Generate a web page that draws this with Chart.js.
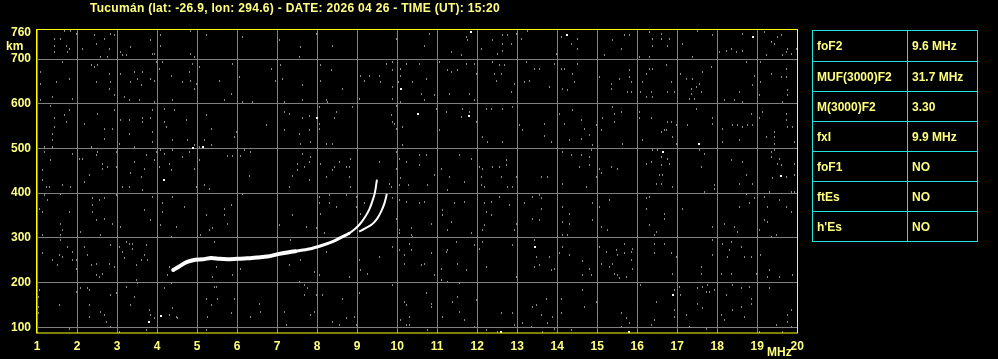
<!DOCTYPE html>
<html>
<head>
<meta charset="utf-8">
<script src="https://cdn.jsdelivr.net/npm/chart.js@4.4.1/dist/chart.umd.min.js"></script>
<style>
  html, body { margin: 0; padding: 0; background: #000; }
  body { width: 998px; height: 359px; position: relative; overflow: hidden;
         font: bold 12px "Liberation Sans", Arial, sans-serif; color: #ffff80; }
  #wrap { position: absolute; left: 0; top: 0; width: 998px; height: 359px; }
  .lbl { position: absolute; white-space: nowrap; line-height: 1; }
  #title { left: 90px; top: 2px; letter-spacing: 0.3px; }
  #km { left: 6px; top: 40px; }
  #mhz { left: 767px; top: 346px; }
  #params { position: absolute; left: 812px; top: 30px; border-collapse: collapse; }
  #params td { border: 1px solid #20e0e0; height: 29px; padding: 0 0 0 4px; color: #ffff80;
               font: bold 12px "Liberation Sans", Arial, sans-serif; vertical-align: middle; }
  #params td.n { width: 90px; }
  #params td.v { width: 65px; }
</style>
</head>
<body>
<div id="wrap"><canvas id="iono" width="998" height="359"></canvas></div>
<div class="lbl" id="title">Tucumán (lat: -26.9, lon: 294.6) - DATE: 2026 04 26 - TIME (UT): 15:20</div>
<div class="lbl" id="km">km</div>
<div class="lbl" id="mhz">MHz</div>
<table id="params"><tbody></tbody></table>
<script>
const xTicks = [1, 2, 3, 4, 5, 6, 7, 8, 9, 10, 11, 12, 13, 14, 15, 16, 17, 18, 19, 20];
const yTicks = [100, 200, 300, 400, 500, 600, 700, 760];

// ordinary trace
const oFreq = [4.40, 4.55, 4.75, 4.95, 5.15, 5.35, 5.55, 5.75, 6.0, 6.25, 6.5, 6.75, 7.05, 7.45, 7.8, 8.15, 8.4, 8.6, 8.8, 8.95, 9.08, 9.2, 9.3, 9.38, 9.44, 9.49];
const oHeight = [228, 236, 246, 251, 252, 255, 253, 252, 253, 254, 256, 258, 264, 270, 275, 284, 292, 301, 310, 320, 332, 347, 363, 382, 400, 428];
// extraordinary trace
const xFreq = [9.05, 9.2, 9.38, 9.5, 9.6, 9.68, 9.74];
const xHeight = [314, 321, 331, 343, 359, 377, 398];

const paramNames = ["foF2", "MUF(3000)F2", "M(3000)F2", "fxI", "foF1", "ftEs", "h'Es"];
const paramValues = ["9.6 MHz", "31.7 MHz", "3.30", "9.9 MHz", "NO", "NO", "NO"];

// background noise echoes [MHz, km]
const noiseDots = [
  [1.43,745],[1.43,730],[1.43,716],[1.59,745],[1.68,762],[1.72,730],[1.76,716],[1.80,723],[1.84,762],[1.97,757],
  [2.14,723],[2.43,753],[2.47,734],[2.68,745],[2.80,723],[2.84,757],[2.93,753],[2.59,704],[2.76,704],[3.09,716],
  [3.14,708],[3.22,708],[3.34,727],[3.84,742],[3.89,712],[3.93,712],[4.01,708],[4.09,753],[4.09,730],[4.84,762],
  [4.84,712],[4.93,704],[5.22,753],
  [1.64,693],[1.09,671],[1.09,645],[1.47,649],[1.80,656],[1.89,611],[1.09,608],[1.39,615],[2.01,619],[2.35,686],
  [2.43,682],[2.51,686],[2.47,649],[2.80,667],[2.80,634],[2.84,649],[2.93,619],[3.09,667],[3.18,615],[3.30,608],
  [3.34,649],[3.43,671],[3.51,656],[3.64,671],[3.60,641],[3.55,608],[3.84,656],[3.93,652],[3.93,604],[3.97,693],
  [4.05,678],[4.14,693],[4.35,663],[4.39,608],[4.64,649],[4.80,671],[4.84,652],[4.89,690],[4.93,634],[4.97,645],
  [5.05,682],[5.55,652],[5.68,608],
  [1.34,594],[1.43,567],[1.43,548],[1.68,574],[1.72,559],[1.80,585],[1.39,533],[1.39,518],[1.39,503],[1.18,503],
  [2.01,596],[2.18,555],[2.35,503],[2.51,578],[2.68,544],[2.68,522],[2.89,544],[2.93,585],[3.05,511],[3.09,563],
  [3.30,563],[3.30,533],[3.43,503],[3.64,567],[3.64,559],[3.84,567],[3.89,585],[3.89,537],[3.89,514],[4.18,589],
  [4.18,559],[4.22,548],[4.39,518],[4.43,585],[4.72,563],[4.76,518],[4.93,507],[5.05,503],[5.18,518],[5.22,574],
  [5.35,544],[5.35,507],
  [1.18,492],[1.34,473],[1.14,451],[1.14,429],[1.22,414],[1.30,414],[1.64,418],[1.84,414],[1.89,488],[2.05,477],
  [2.14,477],[2.18,425],[2.30,440],[2.47,485],[2.51,492],[2.64,455],[2.76,459],[2.64,466],[2.97,492],[2.97,459],
  [3.14,414],[3.30,414],[3.34,444],[3.43,470],[3.60,436],[3.68,455],[3.72,485],[3.64,406],[3.93,473],[3.97,492],
  [4.05,459],[4.09,496],[4.18,488],[4.30,466],[4.35,451],[4.39,496],[4.64,481],[4.80,492],[4.93,455],[4.97,414],
  [5.05,473],[5.18,418],[5.30,410],
  [1.05,365],[1.14,358],[1.18,395],[1.26,384],[1.59,399],[1.80,358],[2.39,388],[2.39,373],[2.55,384],[2.68,388],
  [2.39,358],[2.97,395],[3.01,347],[3.09,324],[2.89,332],[2.68,343],[2.47,339],[1.59,332],[1.64,317],[1.59,306],
  [1.14,306],[2.09,313],[2.59,306],[3.68,362],[3.84,339],[3.89,391],[4.14,377],[4.14,358],[4.01,328],[4.09,328],
  [4.39,391],[4.47,324],[4.35,302],[4.68,369],[5.09,306],[5.22,351],[5.30,317],[5.39,321],[5.68,351],[5.68,365],
  [1.14,265],[1.39,250],[1.51,239],[1.55,261],[1.59,295],[1.64,257],[1.76,280],[1.89,269],[1.89,250],[1.97,250],
  [1.97,231],[2.01,254],[2.18,280],[2.26,261],[2.47,242],[2.55,213],[2.47,216],[2.35,239],[2.64,220],[2.84,283],
  [2.80,242],[2.93,235],[3.05,280],[3.14,269],[3.18,254],[3.22,291],[3.30,287],[3.39,287],[3.39,276],[3.47,239],
  [3.47,205],[3.60,250],[3.68,261],[3.72,283],[3.76,250],[4.26,216],[4.30,235],[5.43,291],[5.47,235],[5.39,213],
  [1.01,190],[1.05,183],[1.04,168],[1.04,146],[1.04,131],[1.55,149],[1.97,179],[2.09,187],[2.26,187],[2.30,183],
  [2.30,123],[2.30,149],[2.59,134],[2.68,127],[2.84,172],[2.97,176],[2.72,112],[2.84,101],[3.22,190],[3.43,168],
  [3.34,149],[3.51,198],[3.80,138],[3.84,127],[3.93,120],[4.18,187],[4.35,198],[4.39,142],[4.30,127],[4.47,123],
  [4.51,120],[5.22,164],[5.51,164],[5.26,123],[5.35,149],[5.43,190],[5.47,190],[5.22,94],[3.72,94],[3.05,90],[1.80,97],
  [6.14,749],[7.05,742],[7.59,727],[7.55,704],[7.97,757],[8.01,716],[8.39,730],[9.97,745],[10.01,704],
  [5.89,690],[6.05,660],[5.85,622],[6.14,604],[6.39,604],[6.85,678],[7.09,686],[7.14,656],[6.95,652],[7.18,604],
  [7.64,641],[7.64,608],[8.09,686],[8.09,652],[8.35,675],[8.22,608],[8.26,604],[8.64,634],[9.05,611],[9.09,663],
  [9.30,663],[9.18,652],[9.55,663],[9.59,649],[9.72,690],[9.89,693],[9.89,675],[9.89,637],[9.89,611],[10.09,678],
  [10.09,663],[10.22,690],[10.39,649],[10.04,649],[10.09,604],
  [5.97,537],[5.93,526],[6.72,552],[7.18,581],[7.30,578],[7.18,541],[7.64,567],[7.80,572],[7.80,541],[7.55,533],
  [7.84,514],[7.59,511],[8.05,593],[8.05,555],[8.05,544],[8.22,511],[8.39,511],[8.47,581],[8.43,567],[8.89,593],
  [9.85,574],[9.93,555],[9.97,544],[10.14,548],[10.14,507],[9.89,559],[9.97,596],
  [5.76,482],[5.89,482],[6.09,482],[6.34,492],[6.18,496],[6.30,438],[7.30,414],[7.39,438],[7.51,451],[7.51,466],
  [7.64,488],[7.68,459],[7.80,470],[7.84,481],[7.80,429],[8.09,466],[8.22,436],[8.39,451],[8.43,459],[8.55,470],
  [8.72,459],[8.80,459],[8.84,477],[8.80,436],[8.84,414],[9.55,470],[9.97,492],[10.05,477],[10.22,470],[10.09,433],
  [9.97,455],[9.80,421],[9.85,414],[10.05,418],[10.29,418],
  [5.85,373],[5.76,332],[6.14,399],[7.39,351],[7.05,328],[7.72,324],[7.97,321],[8.05,391],[8.05,377],[8.09,354],
  [8.30,395],[8.30,377],[8.47,369],[8.18,310],[8.72,395],[8.97,391],[8.97,369],[9.01,336],[9.09,354],[9.18,377],
  [9.89,388],[9.97,343],[10.05,317],[10.05,384],[10.22,380],[10.35,321],[10.05,310],[10.35,306],
  [5.89,216],[6.09,231],[7.30,239],[7.59,250],[7.34,295],[7.93,224],[8.05,216],[8.22,269],[8.80,213],[9.05,250],
  [9.09,228],[9.26,220],[9.55,257],[9.89,280],[10.05,272],[10.18,261],[10.30,287],[10.35,272],[10.18,242],[10.39,302],
  [5.93,164],[5.85,131],[6.34,123],[6.55,153],[6.59,134],[7.01,116],[7.18,134],[7.22,105],[7.55,202],[7.68,194],
  [7.76,187],[7.68,172],[7.84,127],[7.93,134],[7.97,172],[8.14,172],[8.39,112],[8.55,105],[8.64,164],[8.72,120],
  [8.93,123],[9.05,176],[8.97,105],[9.89,194],[10.18,157],[10.22,149],[10.09,116],[10.30,123],[10.30,105],[10.22,105],
  [10.80,757],[10.68,730],[11.35,716],[11.60,708],[11.72,749],[11.76,742],[12.10,723],[12.39,742],[12.51,712],[12.64,753],
  [12.64,734],[12.64,719],[12.76,753],[12.85,734],[12.97,757],[13.10,745],[13.26,762],[13.97,712],[14.10,749],[14.35,734],
  [14.51,745],[14.51,723],[15.01,719],[15.18,708],
  [10.55,690],[10.72,656],[10.60,622],[10.68,608],[10.93,619],[11.05,693],[11.26,675],[11.35,671],[11.30,622],[11.51,675],
  [11.72,690],[11.80,622],[11.93,690],[11.97,667],[11.93,608],[12.39,693],[12.43,667],[12.47,652],[12.60,667],[12.55,686],
  [12.68,686],[12.85,626],[12.93,645],[13.22,693],[13.18,649],[13.30,652],[13.43,678],[13.55,678],[13.80,637],[13.93,690],
  [14.10,678],[14.18,678],[14.14,634],[14.26,630],[14.39,667],[14.43,649],[14.51,690],[15.01,675],[15.05,660],
  [10.97,589],[11.05,541],[11.22,581],[11.60,570],[11.64,589],[11.80,581],[11.97,559],[12.22,589],[12.35,589],[12.14,526],
  [12.26,514],[12.64,589],[12.64,514],[12.89,593],[13.05,552],[13.14,541],[13.68,555],[13.68,527],[13.85,514],[14.05,578],
  [14.18,555],[14.39,585],[14.30,518],[14.60,563],[14.60,522],[14.68,544],[14.80,530],[14.97,552],[15.14,567],[15.10,541],
  [14.89,507],
  [10.55,485],[10.72,485],[10.55,462],[10.93,440],[10.76,418],[11.10,455],[11.30,436],[11.26,406],[11.55,485],[11.68,425],
  [11.85,477],[12.05,459],[12.10,436],[12.14,455],[12.10,418],[12.18,414],[12.39,459],[12.55,459],[12.72,473],[12.72,462],
  [12.60,436],[12.76,414],[12.89,414],[12.97,436],[13.60,436],[13.76,436],[14.14,492],[14.35,485],[14.14,421],[14.55,459],
  [14.60,485],[14.80,481],[14.85,496],[14.80,462],[14.72,414],[15.01,485],[15.05,455],[15.10,444],[14.97,436],
  [10.55,377],[10.68,380],[10.85,332],[11.14,362],[11.14,351],[11.35,336],[11.43,377],[11.26,317],[11.68,380],[11.85,310],
  [12.18,377],[12.22,358],[12.35,351],[12.18,328],[12.14,317],[12.35,380],[12.55,391],[12.80,373],[12.93,317],[12.97,332],
  [13.18,377],[13.39,391],[13.55,395],[13.60,365],[13.60,388],[13.39,343],[13.55,339],[14.14,369],[14.14,336],[14.30,354],
  [14.30,332],[14.26,306],[14.14,306],[14.89,339],[14.89,377],[15.05,369],[15.10,324],
  [10.60,239],[10.68,242],[10.85,265],[10.93,216],[11.10,231],[11.22,269],[11.26,272],[11.47,291],[11.51,242],[11.72,228],
  [11.93,283],[12.05,276],[12.14,291],[12.22,235],[12.89,283],[12.97,213],[13.43,295],[13.43,235],[13.47,257],[13.55,239],
  [13.80,257],[13.85,228],[13.93,231],[14.05,265],[14.14,280],[14.30,261],[14.64,247],[14.64,216],[14.80,231],[14.85,216],
  [15.05,280],[15.10,242],[15.01,213],
  [10.72,176],[10.85,146],[10.85,153],[11.10,205],[11.14,123],[11.26,202],[11.39,157],[11.51,168],[11.55,134],[11.68,116],
  [11.55,198],[11.97,161],[11.93,101],[12.22,94],[12.60,131],[12.51,90],[12.89,131],[12.93,105],[13.14,109],[13.35,101],
  [13.39,146],[13.47,149],[13.60,127],[13.72,164],[13.89,123],[13.76,109],[13.93,97],[14.10,164],[14.10,131],[14.64,183],
  [14.68,146],[14.97,157],[15.01,131],[14.35,94],[13.64,90],[10.76,94],
  [15.39,742],[15.60,723],[15.68,753],[15.80,753],[16.05,704],[16.30,704],[16.30,760],[16.39,745],[16.39,730],[16.60,757],
  [16.60,745],[16.76,730],[16.80,745],[17.14,734],[17.39,704],[17.51,762],[17.89,753],[18.05,716],[18.22,719],[18.35,723],
  [18.47,716],[18.64,757],[18.64,719],[19.18,760],[19.22,708],[19.35,738],[19.43,734],[19.51,749],[19.60,753],[19.64,708],
  [19.72,716],[19.76,723],[19.85,712],[19.97,723],
  [15.35,645],[15.35,634],[15.55,656],[15.80,675],[15.80,660],[15.85,649],[15.76,626],[15.85,626],[16.09,626],[16.14,649],
  [16.22,667],[16.30,678],[16.39,678],[16.22,615],[16.35,626],[16.39,615],[16.72,686],[16.85,649],[16.76,626],[16.93,626],
  [17.09,667],[17.22,656],[17.39,656],[17.35,634],[17.35,622],[17.30,611],[17.43,611],[17.47,637],[17.55,645],[17.60,626],
  [17.64,671],[17.85,682],[18.01,611],[18.18,608],[18.43,608],[18.55,626],[18.64,604],[18.72,693],[18.93,663],[18.89,641],
  [19.09,693],[19.09,649],[19.05,619],[19.35,667],[19.60,660],[19.72,660],[19.72,678],[19.76,630],[19.76,619],[19.64,604],
  [15.39,593],[15.43,578],[15.60,581],[15.43,559],[15.64,511],[16.05,581],[16.05,567],[16.35,567],[16.60,537],[16.68,541],
  [16.76,559],[16.85,559],[16.72,541],[16.89,526],[16.97,552],[16.97,511],[16.14,518],[17.26,552],[17.47,589],[17.89,567],
  [17.89,555],[18.14,544],[18.39,552],[18.51,552],[18.64,548],[18.76,552],[18.85,578],[18.89,552],[18.55,518],[18.14,514],
  [19.05,567],[19.14,581],[19.22,526],[19.43,537],[19.43,526],[19.72,578],[19.72,563],[19.76,548],[19.89,548],[19.93,514],
  [19.43,511],
  [15.35,459],[15.51,455],[16.39,496],[16.51,496],[16.60,481],[16.76,477],[16.22,466],[16.35,470],[16.60,462],[16.80,466],
  [16.55,440],[16.64,440],[16.47,421],[16.60,421],[16.89,414],[17.68,488],[17.60,459],[17.55,496],[17.93,418],[17.93,410],
  [18.35,473],[18.64,470],[18.72,440],[18.55,421],[18.89,421],[19.35,492],[19.35,481],[19.43,496],[19.55,477],[19.51,466],
  [19.60,462],[19.39,433],[19.72,436],[19.93,466],[19.93,440],[19.85,403],[19.93,403],[19.30,403],[17.68,403],
  [15.30,384],[15.26,317],[16.22,388],[16.30,391],[16.22,365],[16.68,354],[16.68,343],[16.30,328],[16.47,313],[16.43,306],
  [17.14,365],[17.89,324],[18.18,332],[18.43,324],[18.51,313],[18.55,369],[18.72,399],[18.80,377],[18.93,388],[19.05,317],
  [19.18,391],[19.26,369],[19.18,339],[19.26,336],[19.55,384],[19.72,369],[19.85,358],[19.47,306],[19.35,302],
  [15.22,269],[15.39,242],[15.47,272],[15.51,261],[15.68,287],[15.68,265],[15.85,269],[15.89,276],[15.85,250],[15.89,231],
  [15.30,235],[15.43,220],[15.51,216],[15.55,209],[15.72,213],[16.43,287],[16.68,287],[16.43,265],[16.85,265],[16.97,257],
  [16.89,220],[17.60,235],[17.60,220],[17.89,261],[17.89,295],[18.14,287],[18.30,272],[18.35,291],[18.26,257],[18.60,280],
  [18.68,257],[18.85,257],[18.10,220],[18.35,220],[19.01,269],[19.09,261],[19.30,228],[19.26,213],[19.55,213],[19.89,216],
  [18.97,220],
  [16.09,194],[16.01,149],[16.01,134],[15.60,131],[15.72,120],[15.80,109],[15.60,101],[16.47,157],[16.43,116],[16.35,105],
  [16.93,183],[16.93,138],[16.93,123],[17.05,190],[17.09,172],[17.22,127],[17.30,101],[17.51,187],[17.51,153],[17.64,190],
  [17.64,142],[17.72,179],[17.80,179],[17.76,194],[17.93,183],[17.72,97],[18.10,127],[18.22,172],[18.18,116],[18.39,194],
  [18.39,138],[18.60,187],[18.60,146],[18.68,123],[18.80,190],[18.85,164],[18.85,153],[19.30,187],[19.47,105],[19.76,127],
  [19.85,138],[19.76,112],[19.85,101],[19.05,90],[19.64,90]
];
const brightDots = [
  [4.89,502],[5.14,503],[4.18,429],[3.80,112],[4.09,125],[10.09,634],[7.99,568],[11.85,760],[14.25,753],[10.51,578],
  [11.79,572],[13.45,280],[12.60,90],[18.89,749],[17.54,509],[16.64,492],[19.60,438],[16.89,172],[15.80,90]
];

function dotImage(w, h, color) {
  const c = document.createElement("canvas");
  c.width = w;
  c.height = h;
  const g = c.getContext("2d");
  g.fillStyle = color;
  g.fillRect(0, 0, w, h);
  return c;
}

function toPoints(pairs) {
  return pairs.map(([x, y]) => ({ x, y }));
}

function renderTable() {
  const body = document.querySelector("#params tbody");
  body.innerHTML = paramNames
    .map((name, i) => `<tr><td class="n">${name}</td><td class="v">${paramValues[i]}</td></tr>`)
    .join("");
  body.rows[0].cells[0].style.height = "30px";
}

// snap the point images to whole pixels so the echoes stay crisp
const crispDots = {
  id: "crispDots",
  beforeDatasetsDraw(chart) {
    const ctx = chart.ctx;
    const orig = CanvasRenderingContext2D.prototype.drawImage;
    ctx.drawImage = function (img, dx, dy, dw, dh) {
      const m = this.getTransform();
      this.save();
      this.setTransform(1, 0, 0, 1, 0, 0);
      orig.call(this, img, Math.round(m.e + dx), Math.round(m.f + dy), dw, dh);
      this.restore();
    };
  },
  afterDatasetsDraw(chart) {
    delete chart.ctx.drawImage;
    const { ctx, chartArea: a } = chart;
    ctx.save();
    ctx.strokeStyle = "#ffff00";
    ctx.lineWidth = 1;
    ctx.strokeRect(Math.round(a.left) + 0.5, Math.round(a.top) - 0.5, Math.round(a.right - a.left) - 1, Math.round(a.bottom - a.top) + 0.5);
    ctx.restore();
  }
};

const tickFont = { family: "'Liberation Sans', Arial, sans-serif", size: 12, weight: "bold" };

new Chart(document.getElementById("iono"), {
  type: "scatter",
  data: {
    datasets: [
      {
        data: toPoints(noiseDots),
        pointStyle: dotImage(1, 2, "#8a8a8a"),
        pointRadius: 1
      },
      {
        data: toPoints(brightDots),
        pointStyle: dotImage(2, 2, "#ffffff"),
        pointRadius: 1
      },
      {
        type: "line",
        data: oFreq.map((f, i) => ({ x: f, y: oHeight[i] })),
        borderColor: "#ffffff",
        borderWidth: 3,
        borderCapStyle: "round",
        pointRadius: 0,
        tension: 0.3,
        segment: {
          borderWidth: (c) => (c.p0.parsed.x < 7.2 ? 4 : c.p0.parsed.x < 8.7 ? 3 : 2)
        }
      },
      {
        type: "line",
        data: xFreq.map((f, i) => ({ x: f, y: xHeight[i] })),
        borderColor: "#ffffff",
        borderWidth: 2,
        pointRadius: 0,
        tension: 0.3
      }
    ]
  },
  options: {
    responsive: false,
    animation: false,
    events: [],
    layout: { padding: { top: 30, right: 200, left: 0, bottom: 0 } },
    plugins: { legend: { display: false }, tooltip: { enabled: false } },
    scales: {
      x: {
        type: "linear",
        min: 0.97,
        max: 20.02,
        afterBuildTicks: (s) => { s.ticks = xTicks.map((v) => ({ value: v })); },
        afterFit: (s) => { s.height = 26; },
        grid: { color: "#808080", lineWidth: 1, drawTicks: false },
        border: { display: false },
        ticks: { color: "#ffff80", font: tickFont, padding: 6, maxRotation: 0, autoSkip: false }
      },
      y: {
        type: "linear",
        min: 87,
        max: 765,
        afterBuildTicks: (s) => { s.ticks = yTicks.map((v) => ({ value: v })); },
        afterFit: (s) => { s.width = 36; },
        grid: {
          color: (c) => (c.tick && c.tick.value === 760 ? "rgba(0,0,0,0)" : "#808080"),
          lineWidth: 1,
          drawTicks: false
        },
        border: { display: false },
        ticks: { color: "#ffff80", font: tickFont, padding: 5, autoSkip: false }
      }
    }
  },
  plugins: [crispDots]
});

renderTable();
</script>
</body>
</html>
